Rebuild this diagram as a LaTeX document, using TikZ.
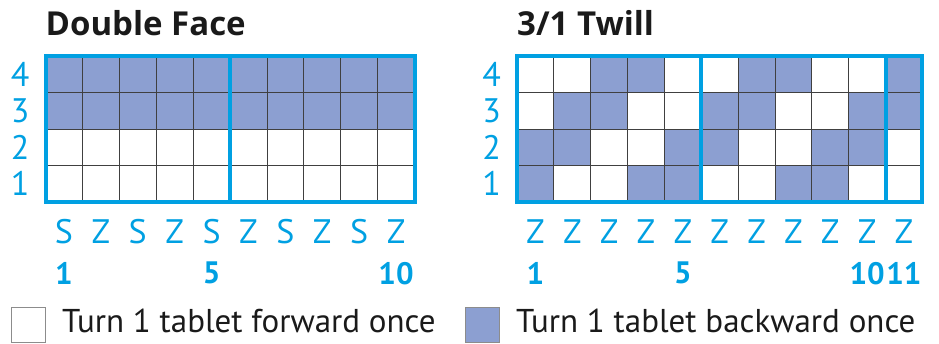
\documentclass[tikz,border=0pt]{standalone}
\usepackage{fontspec}
\setmainfont{PT Sans}
\newfontfamily\headfont{Open Sans}
\usetikzlibrary{positioning}
\definecolor{rimblue}{HTML}{00A0E2}
\definecolor{weft}{HTML}{8C9FD1}
\definecolor{ink}{HTML}{1A1A1A}

\begin{document}
\begin{tikzpicture}[
  x=1pt, y=-1pt,
  every node/.style={inner sep=0pt},
  title/.style={font=\headfont\fontsize{33}{33}\selectfont\bfseries, text=ink, anchor=base west},
  lab/.style={font=\fontsize{34}{34}\selectfont, text=rimblue},
  num/.style={font=\fontsize{31}{31}\selectfont\bfseries, text=rimblue},
  key/.style={font=\fontsize{33}{33}\selectfont, text=ink, anchor=base west},
  keybox/.style={draw=black!45, line width=1pt, minimum width=34pt, minimum height=35pt},
  c0/.style={draw=black!75, line width=0.8pt, fill=white},
  c1/.style={draw=black!75, line width=0.8pt, fill=weft},
  rim/.style={draw=rimblue, line width=4pt},
]
\useasboundingbox (0,0) rectangle (939,343);

% Double Face
\begin{scope}[shift={(45.5,56)}, x=36.9pt, y=-36.5pt]
  \node[title] (df-title) at (0,-0.575) {Double Face};
  \foreach \r in {1,...,4}
    \foreach \c in {1,...,10}{
      \pgfmathtruncatemacro\v{\r>2}
      \draw[c\v] (\c-1,4-\r) rectangle ++(1,1);
    }
  \draw[rim] (0,0) rectangle (10,4);
  \draw[rim] (5,0) -- (5,4);
  \foreach \r in {1,...,4}
    \node[lab] (df-row\r) at (-0.69,4.5-\r) {\r};
  \foreach \d [count=\c] in {S,Z,S,Z,S,Z,S,Z,S,Z}
    \node[lab] (df-dir\c) at (\c-0.5,4.81) {\d};
  \foreach \c in {1,5,10}
    \node[num] (df-num\c) at (\c-0.5,5.95) {\c};
\end{scope}

% 3/1 Twill
\begin{scope}[shift={(517,56)}, x=36.85pt, y=-36.5pt]
  \node[title] (tw-title) at (0,-0.575) {3/1 Twill};
  \foreach \r/\pat in {4/{0,0,1,1,0,0,1,1,0,0,1},
                       3/{0,1,1,0,0,1,1,0,0,1,1},
                       2/{1,1,0,0,1,1,0,0,1,1,0},
                       1/{1,0,0,1,1,0,0,1,1,0,0}}
    \foreach \v [count=\c] in \pat
      \draw[c\v] (\c-1,4-\r) rectangle ++(1,1);
  \draw[rim] (0,0) rectangle (11,4);
  \draw[rim] (5,0) -- (5,4);
  \draw[rim] (10,0) -- (10,4);
  \foreach \r in {1,...,4}
    \node[lab] (tw-row\r) at (-0.69,4.5-\r) {\r};
  \foreach \c in {1,...,11}
    \node[lab] (tw-dir\c) at (\c-0.5,4.81) {Z};
  \foreach \c in {1,5,10,11}
    \node[num] (tw-num\c) at (\c-0.5,5.95) {\c};
\end{scope}

% key
\node[keybox, fill=white] (fwd-box) at (28.5,324.5) {};
\node[key] (fwd-text) at (62,332) {Turn 1 tablet forward once};
\node[keybox, fill=weft] (back-box) at (482.5,324.5) {};
\node[key] (back-text) at (516,332) {Turn 1 tablet backward once};
\end{tikzpicture}
\end{document}
